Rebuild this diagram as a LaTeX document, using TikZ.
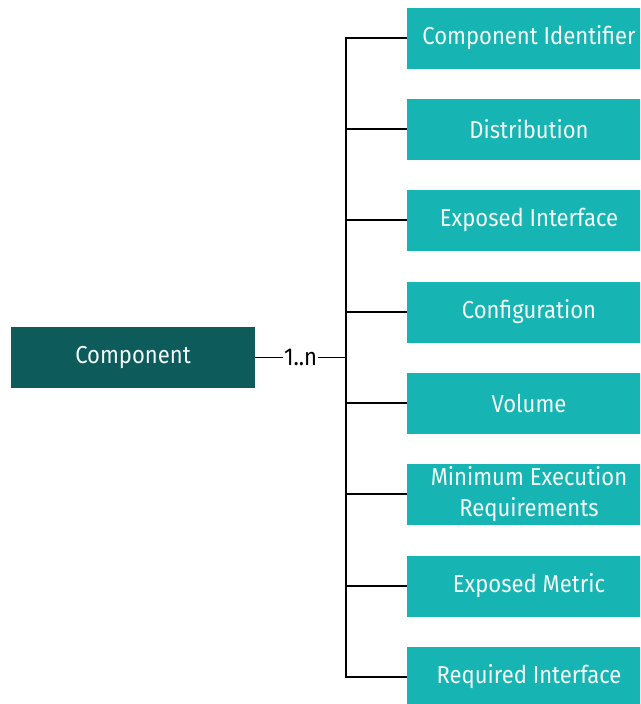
\documentclass[tikz,border=0pt]{standalone}
\usepackage{fontspec}
\setmainfont{Fira Sans}[FakeStretch=0.9]
\definecolor{darkteal}{HTML}{0D5C5B}
\definecolor{lightteal}{HTML}{17B4B4}
\definecolor{boxtext}{HTML}{F2FAFA}
\begin{document}
\begin{tikzpicture}[x=1pt,y=-1pt,
  basebox/.style={minimum width=244pt,minimum height=61pt,inner sep=0pt,
    text=boxtext,font=\fontsize{24.5}{31}\selectfont,align=center},
  mainbox/.style={basebox,fill=darkteal},
  partbox/.style={basebox,fill=lightteal},
  link/.style={draw=black,line width=1.3pt}]
\useasboundingbox (0,0) rectangle (640,704);
\clip (0,0) rectangle (640,704);
\fill[white] (0,0) rectangle (640,704);
\node[mainbox] (comp) at (133,357.5) {Component};
\coordinate (hub) at (346,357.5);
\node[partbox] (p1) at (529,38) {Component Identifier};
\node[partbox] (p2) at (529,129) {Distribution};
\node[partbox] (p3) at (529,220) {Exposed Interface};
\node[partbox] (p4) at (529,312) {Configuration};
\node[partbox] (p5) at (529,403) {Volume};
\node[partbox] (p6) at (529,494) {Minimum Execution\\Requirements};
\node[partbox] (p7) at (529,586) {Exposed Metric};
\node[partbox] (p8) at (529,677) {Required Interface};
\draw[link] (comp) -- node[fill=white,inner sep=1pt,font=\fontsize{24.5}{28}\selectfont]{1..n} (hub);
\foreach \i in {1,...,8} \draw[link] (hub) |- (p\i.west);
\end{tikzpicture}
\end{document}
